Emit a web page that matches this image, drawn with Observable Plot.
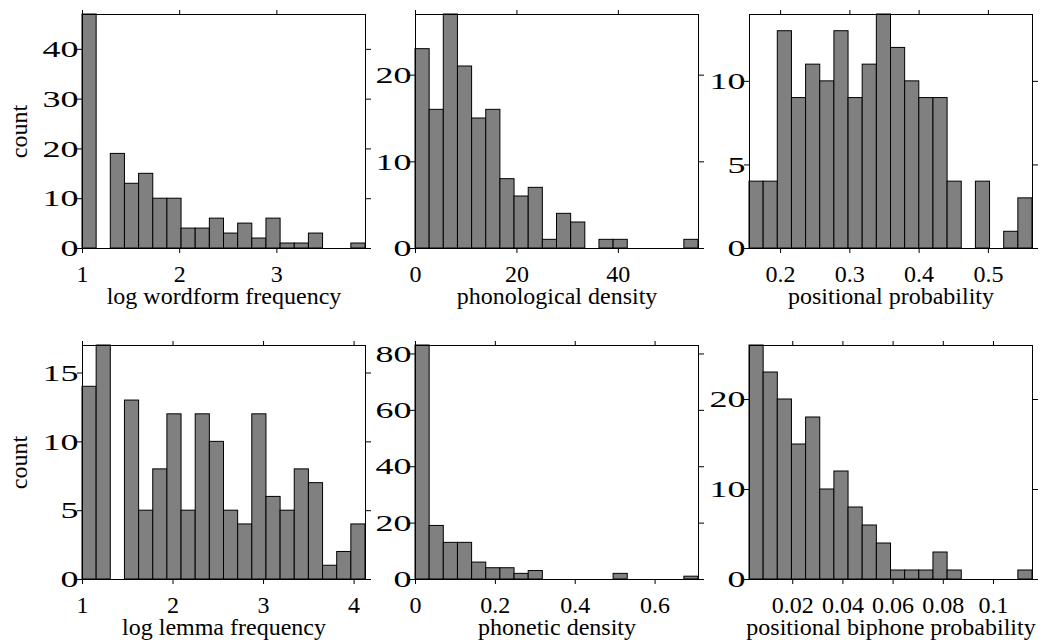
<!DOCTYPE html>
<html>
<head>
<meta charset="utf-8">
<script src="https://cdn.jsdelivr.net/npm/d3@7"></script>
<script src="https://cdn.jsdelivr.net/npm/@observablehq/plot@0.6"></script>
<style>
  html, body { margin: 0; padding: 0; background: #fff; }
  #chart { position: relative; width: 1060px; height: 642px; overflow: hidden; background: #fff; }
  #chart svg { position: absolute; overflow: visible; }
</style>
</head>
<body>
<div id="chart"></div>
<script>
// ---- Data (counts per bin, 20 equal-width bins per panel) ----
const wordformCounts   = [47, 0, 19, 13, 15, 10, 10, 4, 4, 6, 3, 5, 2, 6, 1, 1, 3, 0, 0, 1];
const wordformRange    = [1, 3.912];
const phonologicalCounts = [23, 16, 27, 21, 15, 16, 8, 6, 7, 1, 4, 3, 0, 1, 1, 0, 0, 0, 0, 1];
const phonologicalRange  = [0, 55.8];
const positionalCounts = [4, 4, 13, 9, 11, 10, 13, 9, 11, 14, 12, 10, 9, 9, 4, 0, 4, 0, 1, 3];
const positionalRange  = [0.1551, 0.5637];
const lemmaCounts      = [14, 17, 0, 13, 5, 8, 12, 5, 12, 10, 5, 4, 12, 6, 5, 8, 7, 1, 2, 4];
const lemmaRange       = [1, 4.126];
const phoneticCounts   = [83, 19, 13, 13, 6, 4, 4, 2, 3, 0, 0, 0, 0, 0, 2, 0, 0, 0, 0, 1];
const phoneticRange    = [0, 0.7087];
const biphoneCounts    = [26, 23, 20, 15, 18, 10, 12, 8, 6, 4, 1, 1, 1, 3, 1, 0, 0, 0, 0, 1];
const biphoneRange     = [0.00277, 0.11555];

// ---- Tick values ----
const wordformXTicks = [1, 2, 3];
const wordformYTicks = [0, 10, 20, 30, 40];
const phonologicalXTicks = [0, 20, 40];
const phonologicalYTicks = [0, 10, 20];
const positionalXTicks = [0.2, 0.3, 0.4, 0.5];
const positionalYTicks = [0, 5, 10];
const lemmaXTicks = [1, 2, 3, 4];
const lemmaYTicks = [0, 5, 10, 15];
const phoneticXTicks = [0, 0.2, 0.4, 0.6];
const phoneticYTicks = [0, 20, 40, 60, 80];
const biphoneXTicks = [0.02, 0.04, 0.06, 0.08, 0.1];
const biphoneYTicks = [0, 10, 20];

const panels = [
  {counts: wordformCounts, range: wordformRange, yMax: 47, xTicks: wordformXTicks, yTicks: wordformYTicks, xLabel: "log wordform frequency", yLabel: "count", col: 0, row: 0},
  {counts: phonologicalCounts, range: phonologicalRange, yMax: 27, xTicks: phonologicalXTicks, yTicks: phonologicalYTicks, xLabel: "phonological density", yLabel: null, col: 1, row: 0},
  {counts: positionalCounts, range: positionalRange, yMax: 14, xTicks: positionalXTicks, yTicks: positionalYTicks, xLabel: "positional probability", yLabel: null, col: 2, row: 0},
  {counts: lemmaCounts, range: lemmaRange, yMax: 17, xTicks: lemmaXTicks, yTicks: lemmaYTicks, xLabel: "log lemma frequency", yLabel: "count", col: 0, row: 1},
  {counts: phoneticCounts, range: phoneticRange, yMax: 83, xTicks: phoneticXTicks, yTicks: phoneticYTicks, xLabel: "phonetic density", yLabel: null, col: 1, row: 1},
  {counts: biphoneCounts, range: biphoneRange, yMax: 26, xTicks: biphoneXTicks, yTicks: biphoneYTicks, xLabel: "positional biphone probability", yLabel: null, col: 2, row: 1}
];

// ---- Layout ----
const colLeft = [82, 415, 749];
const rowTop = [14, 345];
const frameW = 283, frameH = 234;
const ML = 80, MR = 20, MT = 15, MB = 70;
const FONT = "'Liberation Serif', 'Times New Roman', serif";
const Y_LABEL_STRETCH = 1.5;
const fmt = d => String(+d.toFixed(4));

const chart = document.getElementById("chart");

for (const p of panels) {
  const n = p.counts.length;
  const step = (p.range[1] - p.range[0]) / n;
  const bins = p.counts.map((c, i) => ({x1: p.range[0] + i * step, x2: p.range[0] + (i + 1) * step, c}));
  const marks = [
    Plot.rect(bins, {x1: "x1", x2: "x2", y1: 0, y2: "c", fill: "#808080", stroke: "black", strokeWidth: 1}),
    Plot.frame({stroke: "black", strokeWidth: 1}),
    Plot.axisX({ticks: p.xTicks, anchor: "bottom", tickSize: 5, tickPadding: 11, tickFormat: fmt, label: null, fontSize: 24}),
    Plot.axisX({ticks: p.xTicks, anchor: "top", tickSize: 5, tickFormat: () => "", label: null}),
    Plot.axisY({ticks: p.yTicks, anchor: "left", tickSize: 5, tickFormat: () => "", label: null}),
    Plot.axisY({ticks: p.yTicks, anchor: "left", tickSize: 0, tickPadding: 4, tickFormat: fmt, label: null, fontSize: 24}),
    Plot.axisY({ticks: p.yTicks, anchor: "right", tickSize: 5, tickFormat: () => "", label: null}),
    Plot.text([p.xLabel], {frameAnchor: "bottom", dy: 48, lineAnchor: "middle", textAnchor: "middle", fontSize: 24, fill: "black"})
  ];
  if (p.yLabel) {
    marks.push(Plot.text([p.yLabel], {frameAnchor: "left", dx: -63, rotate: -90, lineAnchor: "middle", textAnchor: "middle", fontSize: 24, fill: "black"}));
  }
  const svg = Plot.plot({
    width: frameW + ML + MR,
    height: frameH + MT + MB,
    marginLeft: ML, marginRight: MR, marginTop: MT, marginBottom: MB,
    x: {domain: p.range},
    y: {domain: [0, p.yMax]},
    style: {fontFamily: FONT, fontSize: "24px", color: "black", background: "transparent", overflow: "visible"},
    marks
  });
  svg.style.left = (colLeft[p.col] - ML) + "px";
  svg.style.top = (rowTop[p.row] - MT) + "px";
  chart.appendChild(svg);

  // widen the y tick labels horizontally (right edge fixed), as in the reference
  svg.querySelectorAll('[aria-label="y-axis tick label"] text').forEach(t => {
    if (!t.textContent) return;
    const b = t.getBBox();
    const r = b.x + b.width, cy = b.y + b.height / 2;
    const prev = t.getAttribute("transform") || "";
    t.setAttribute("transform", `${prev} translate(${r},${cy}) scale(${Y_LABEL_STRETCH},1) translate(${-r},${-cy})`);
  });
}
</script>
</body>
</html>
